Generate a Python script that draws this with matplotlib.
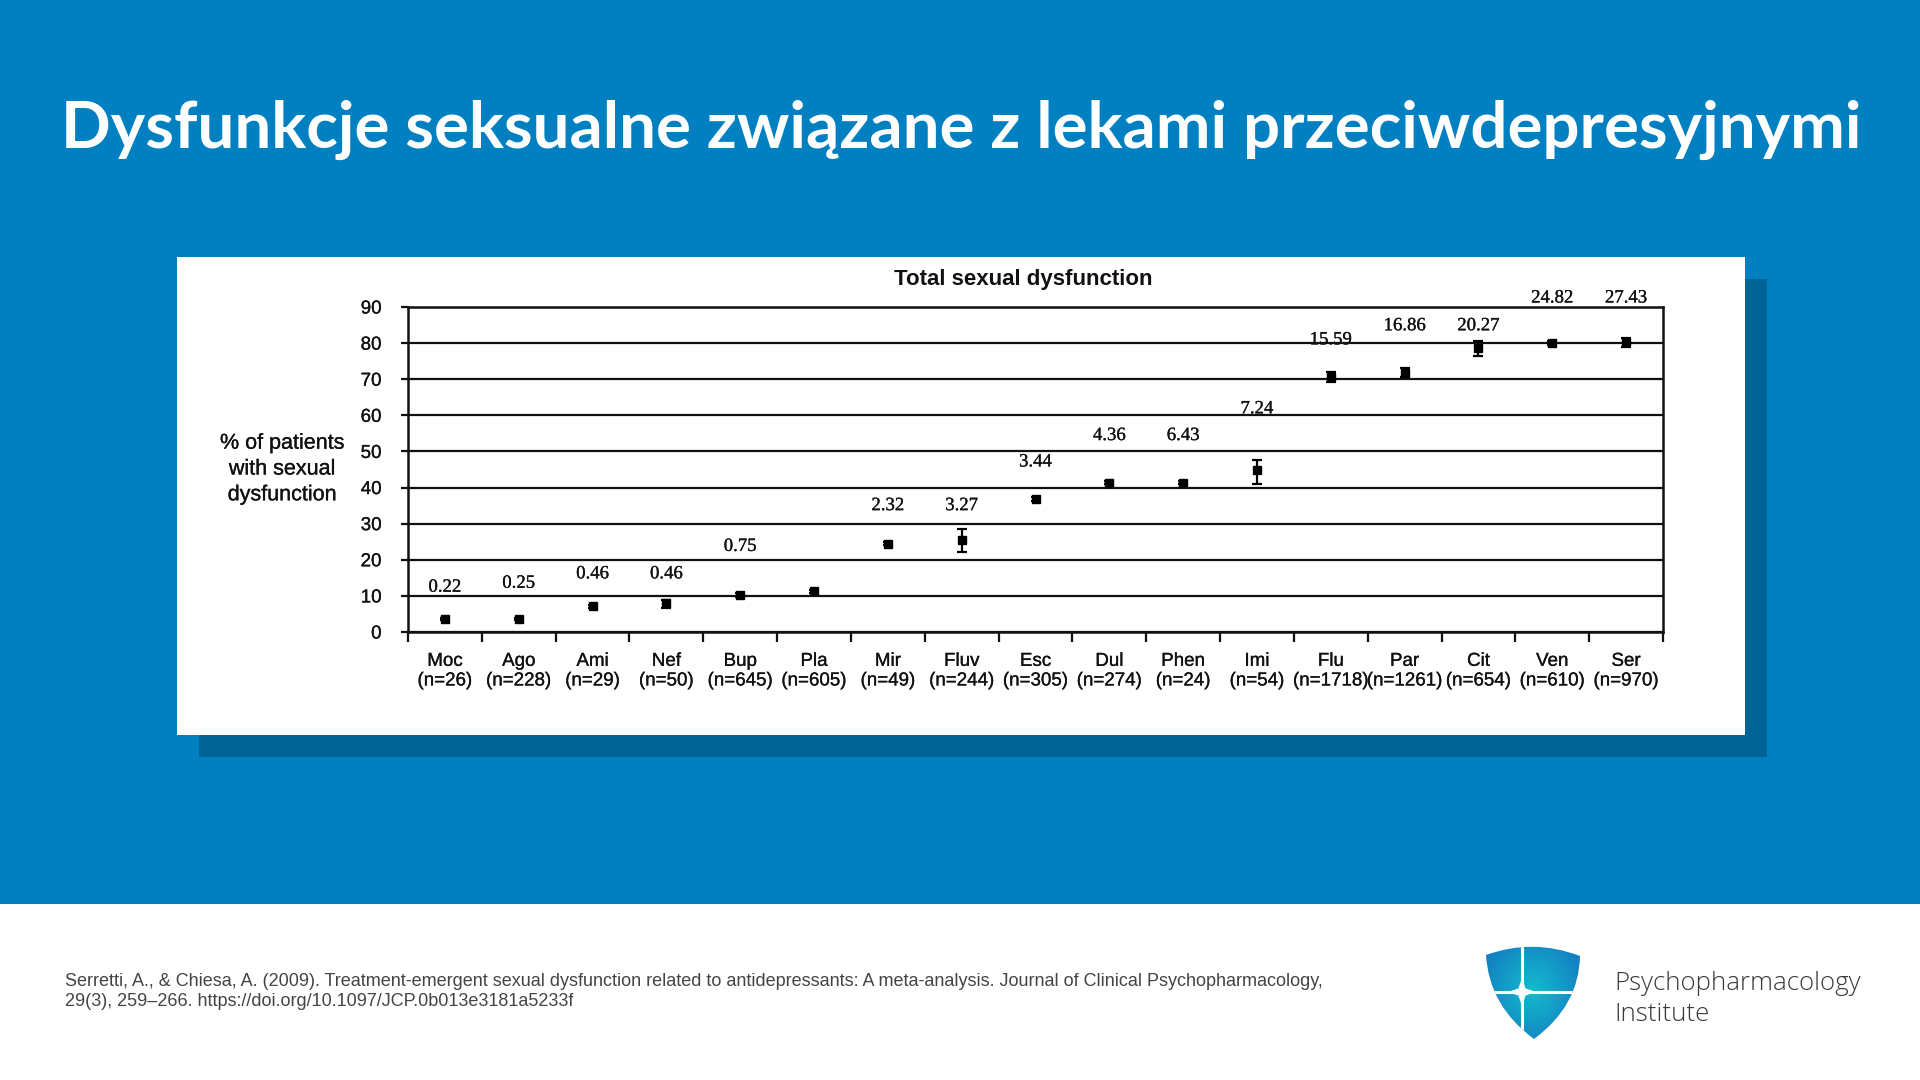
import numpy as np
import matplotlib
matplotlib.use("Agg")
import matplotlib.pyplot as plt
from matplotlib.patches import Rectangle, PathPatch, Polygon
from matplotlib.path import Path
import matplotlib.patheffects as pe

# ---------------- data ----------------
categories = ['Moc', 'Ago', 'Ami', 'Nef', 'Bup', 'Pla', 'Mir', 'Fluv', 'Esc',
              'Dul', 'Phen', 'Imi', 'Flu', 'Par', 'Cit', 'Ven', 'Ser']
n_patients = [26, 228, 29, 50, 645, 605, 49, 244, 305, 274, 24, 54, 1718, 1261, 654, 610, 970]
pct_dysfunction = [3.5, 3.6, 7.1, 7.9, 10.3, 11.3, 24.5, 25.6, 36.8, 41.4, 41.4, 44.9,
                   70.6, 71.8, 78.6, 80.1, 80.2]
err_low = [0.3, 0.3, 0.4, 1.2, 0.5, 0.4, 0.4, 3.4, 0.5, 0.5, 0.4, 4.0, 1.5, 1.3, 2.2, 0.6, 1.2]
err_high = [0.3, 0.3, 0.4, 1.1, 0.5, 0.4, 0.4, 2.8, 0.5, 0.5, 0.4, 2.8, 1.5, 1.3, 2.0, 0.6, 1.3]
odds_labels = ['0.22', '0.25', '0.46', '0.46', '0.75', None, '2.32', '3.27', '3.44',
               '4.36', '6.43', '7.24', '15.59', '16.86', '20.27', '24.82', '27.43']
odds_label_y = [12.4, 13.5, 16.1, 16.1, 23.7, None, 35.0, 35.0, 47.1,
                54.4, 54.4, 61.8, 80.9, 84.8, 84.8, 92.5, 92.5]
y_ticks = [0, 10, 20, 30, 40, 50, 60, 70, 80, 90]

slide_title = "Dysfunkcje seksualne związane z lekami przeciwdepresyjnymi"
chart_title = "Total sexual dysfunction"
y_label = "% of patients\nwith sexual\ndysfunction"
citation_1 = ("Serretti, A., & Chiesa, A. (2009). Treatment-emergent sexual dysfunction related to "
              "antidepressants: A meta-analysis. Journal of Clinical Psychopharmacology,")
citation_2 = "29(3), 259–266. https://doi.org/10.1097/JCP.0b013e3181a5233f"

# ---------------- figure ----------------
W, H = 1920, 1080
fig = plt.figure(figsize=(W / 100, H / 100), dpi=100)
fig.patch.set_facecolor('white')


def fx(x):
    return x / W


def fy(y):
    return 1 - y / H


BLUE = '#0080c0'
SHADOW = '#006396'
INK = '#111111'
thick = [pe.withStroke(linewidth=0.2, foreground=INK)]

bg = fig.add_axes([0, 0, 1, 1])
bg.set_xlim(0, W)
bg.set_ylim(H, 0)
bg.axis('off')
bg.add_patch(Rectangle((0, 0), W, 904, color=BLUE, lw=0))
bg.add_patch(Rectangle((199, 279), 1568, 478, color=SHADOW, lw=0))
bg.add_patch(Rectangle((177, 257), 1568, 478, color='white', lw=0))

# logo shield
verts = [(1486, 955), (1533, 938), (1580, 956), (1579, 1006), (1534, 1039),
         (1489, 1006), (1486, 955), (1486, 955)]
codes = [Path.MOVETO, Path.CURVE3, Path.CURVE3, Path.CURVE3, Path.CURVE3,
         Path.CURVE3, Path.CURVE3, Path.CLOSEPOLY]
shield = PathPatch(Path(verts, codes), facecolor='none', edgecolor='none')
bg.add_patch(shield)
gx, gy = np.meshgrid(np.linspace(1480, 1590, 120), np.linspace(940, 1045, 120))
rr = np.sqrt(((gx - 1533) / 55) ** 2 + ((gy - 990) / 60) ** 2)
rr = np.clip(rr, 0, 1)
c_center = np.array([0x14, 0xbc, 0xcd]) / 255
c_edge = np.array([0x13, 0x7e, 0xc2]) / 255
img = c_center[None, None, :] * (1 - rr[..., None]) + c_edge[None, None, :] * rr[..., None]
im = bg.imshow(img, extent=[1480, 1590, 1045, 940], interpolation='bilinear', zorder=2)
im.set_clip_path(shield)
l1, = bg.plot([1522, 1522], [935, 1045], color='white', lw=2.2, zorder=3)
l2, = bg.plot([1475, 1595], [992, 992], color='white', lw=2.2, zorder=3)
star = Polygon([(1522, 980), (1525, 989), (1534, 992), (1525, 995), (1522, 1004),
                (1519, 995), (1510, 992), (1519, 989)], closed=True, color='white', zorder=3)
bg.add_patch(star)
for a in (l1, l2, star):
    a.set_clip_path(shield)

renderer = fig.canvas.get_renderer()


def fit(t, target_w):
    w = t.get_window_extent(renderer).width
    t.set_fontsize(t.get_fontsize() * target_w / w)


t_title = fig.text(fx(961), fy(148), slide_title, ha='center', va='baseline',
                   color='white', fontsize=46, fontweight='bold', family='Lato')
fit(t_title, 1800)

t_c1 = fig.text(fx(65), fy(986), citation_1, ha='left', va='baseline', color='#444444',
                fontsize=12, family='Liberation Sans')
fit(t_c1, 1261)
t_c2 = fig.text(fx(65), fy(1006), citation_2, ha='left', va='baseline', color='#444444',
                fontsize=t_c1.get_fontsize(), family='Liberation Sans')

t_l1 = fig.text(fx(1614), fy(990), "Psychopharmacology", ha='left', va='baseline',
                color='#3a3a3a', fontsize=20, family='Open Sans', fontweight='light')
fit(t_l1, 247)
t_l2 = fig.text(fx(1614), fy(1021), "Institute", ha='left', va='baseline',
                color='#3a3a3a', fontsize=t_l1.get_fontsize(), family='Open Sans',
                fontweight='light')

# ---------------- chart ----------------
L, R, T, B = 408, 1663, 307, 632
ax = fig.add_axes([fx(L), fy(B), (R - L) / W, (B - T) / H])
ax.set_facecolor('white')
x = np.arange(len(categories))
ax.set_xlim(-0.5, len(categories) - 0.5)
ax.set_ylim(0, 90)
ax.set_yticks(y_ticks)
ax.set_yticklabels([str(v) for v in y_ticks])
for v in y_ticks:
    ax.axhline(v, color=INK, lw=1.6, zorder=1)

ax.errorbar(x, pct_dysfunction, yerr=[err_low, err_high], fmt='s', color='black',
            markersize=6.3, elinewidth=1.6, capsize=3.5, capthick=1.6, zorder=4)

for xi, lab, ly in zip(x, odds_labels, odds_label_y):
    if lab is not None:
        ax.text(xi, ly, lab, ha='center', va='center', fontsize=13.5,
                family='Liberation Serif', color=INK, clip_on=False,
                path_effects=thick)

ax.set_xticks(x)
ax.set_xticklabels([f"{c}\n(n={n})" for c, n in zip(categories, n_patients)],
                   family='Liberation Sans', fontsize=13.5, linespacing=1.2)
ax.set_xticks(np.arange(-0.5, len(categories)), minor=True)
ax.tick_params(axis='x', which='major', length=0, pad=15)
ax.tick_params(axis='x', which='minor', length=7, width=1.6, direction='out', color=INK)
ax.tick_params(axis='y', length=5, width=1.6, pad=14, labelsize=13.5, color=INK)
for lab in ax.get_yticklabels():
    lab.set_family('Liberation Sans')
    lab.set_color(INK)
    lab.set_path_effects(thick)
for lab in ax.get_xticklabels():
    lab.set_color(INK)
    lab.set_path_effects(thick)
for s in ax.spines.values():
    s.set_linewidth(1.8)
    s.set_color(INK)

fig.text(fx(1023), fy(280), chart_title, ha='center', va='center', fontsize=16,
         fontweight='bold', family='Liberation Sans', color=INK)
fig.text(fx(282), fy(469), y_label, ha='center', va='center', fontsize=15.5,
         family='Liberation Sans', color=INK, linespacing=1.3,
         multialignment='center', path_effects=thick)

fig.savefig('out.png', dpi=100, facecolor=fig.get_facecolor())
